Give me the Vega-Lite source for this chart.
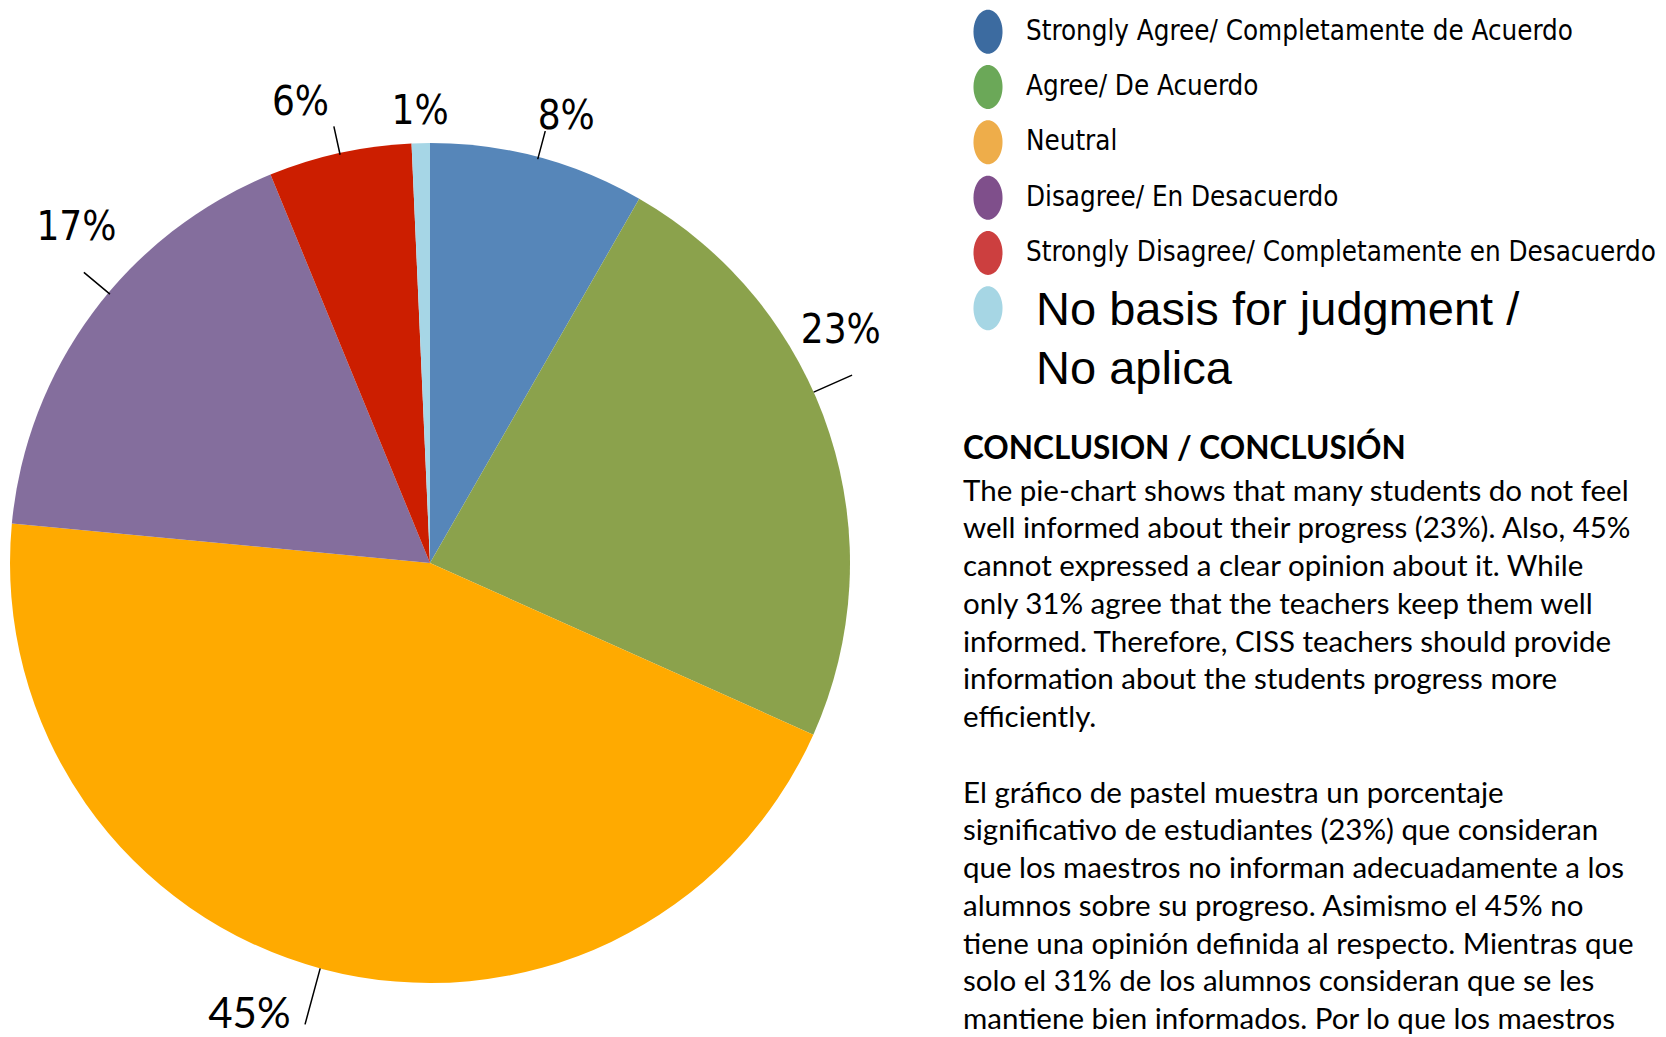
{
  "$schema": "https://vega.github.io/schema/vega-lite/v6.json",
  "padding": 0,
  "background": "white",
  "config": {"view": {"stroke": null}},
  "datasets": {
    "slices": [
      {"category": "Strongly Agree/ Completamente de Acuerdo", "pct": 8.3, "label": "8%", "order": 1},
      {"category": "Agree/ De Acuerdo", "pct": 23.4, "label": "23%", "order": 2},
      {"category": "Neutral", "pct": 44.8, "label": "45%", "order": 3},
      {"category": "Disagree/ En Desacuerdo", "pct": 17.3, "label": "17%", "order": 4},
      {"category": "Strongly Disagree/ Completamente en Desacuerdo", "pct": 5.5, "label": "6%", "order": 5},
      {"category": "No basis for judgment /\nNo aplica", "pct": 0.7, "label": "1%", "order": 6}
    ]
  },
  "bounds": "flush",
  "spacing": 103,
  "hconcat": [
    {
      "width": 860,
      "height": 1126,
      "data": {"name": "slices"},
      "resolve": {"scale": {"theta": "independent"}},
      "encoding": {
        "order": {"field": "order", "type": "quantitative"},
        "detail": {"field": "category"}
      },
      "layer": [
        {
          "mark": {"type": "arc", "outerRadius": 420},
          "encoding": {
            "theta": {"field": "pct", "type": "quantitative", "stack": true},
            "color": {
              "field": "category", "type": "nominal", "legend": null,
              "scale": {
                "domain": ["Strongly Agree/ Completamente de Acuerdo", "Agree/ De Acuerdo", "Neutral", "Disagree/ En Desacuerdo", "Strongly Disagree/ Completamente en Desacuerdo", "No basis for judgment /\nNo aplica"],
                "range": ["#5686B9", "#8BA24C", "#FFAA00", "#846E9D", "#CC1E00", "#A6D6E6"]
              }
            }
          }
        },
        {
          "mark": {"type": "arc", "innerRadius": 418, "outerRadius": 447, "padAngle": 3, "fill": "black", "fillOpacity": 0, "stroke": "black", "strokeWidth": 1.5},
          "encoding": {
            "theta": {"field": "pct", "type": "quantitative", "stack": true},
            "strokeOpacity": {"condition": {"test": "datum.label == '8%' || datum.label == '6%'", "value": 1}, "value": 0}
          }
        },
        {
          "mark": {"type": "arc", "innerRadius": 420, "outerRadius": 478, "padAngle": 3, "fill": "black", "fillOpacity": 0, "stroke": "black", "strokeWidth": 1.5},
          "encoding": {
            "theta": {"field": "pct", "type": "quantitative", "stack": true, "scale": {"range": [0.007, 6.290]}},
            "strokeOpacity": {"condition": {"test": "datum.label == '45%'", "value": 1}, "value": 0}
          }
        },
        {
          "mark": {"type": "arc", "innerRadius": 420, "outerRadius": 462, "padAngle": 3, "fill": "black", "fillOpacity": 0, "stroke": "black", "strokeWidth": 1.5},
          "encoding": {
            "theta": {"field": "pct", "type": "quantitative", "stack": true, "scale": {"range": [-0.1047, 6.1785]}},
            "strokeOpacity": {"condition": {"test": "datum.label == '23%'", "value": 1}, "value": 0}
          }
        },
        {
          "mark": {"type": "arc", "innerRadius": 418, "outerRadius": 452, "padAngle": 3, "fill": "black", "fillOpacity": 0, "stroke": "black", "strokeWidth": 1.5},
          "encoding": {
            "theta": {"field": "pct", "type": "quantitative", "stack": true, "scale": {"range": [0.061, 6.344]}},
            "strokeOpacity": {"condition": {"test": "datum.label == '17%'", "value": 1}, "value": 0}
          }
        },
        {
          "mark": {"type": "text", "radius": 466, "font": "DejaVu Sans Condensed", "fontSize": 40, "color": "black", "align": "center", "baseline": "middle"},
          "encoding": {
            "theta": {"field": "pct", "type": "quantitative", "stack": true, "scale": {"range": [0.036, 6.319]}},
            "text": {"condition": {"test": "datum.label == '8%'", "field": "label"}, "value": ""}
          }
        },
        {
          "mark": {"type": "text", "radius": 472, "font": "DejaVu Sans Condensed", "fontSize": 40, "color": "black", "align": "center", "baseline": "middle"},
          "encoding": {
            "theta": {"field": "pct", "type": "quantitative", "stack": true, "scale": {"range": [-0.2007, 6.0825]}},
            "text": {"condition": {"test": "datum.label == '23%'", "field": "label"}, "value": ""}
          }
        },
        {
          "mark": {"type": "text", "radius": 487, "font": "Lato", "fontSize": 42, "color": "black", "align": "center", "baseline": "middle"},
          "encoding": {
            "theta": {"field": "pct", "type": "quantitative", "stack": true, "scale": {"range": [0.1222, 6.4054]}},
            "text": {"condition": {"test": "datum.label == '45%'", "field": "label"}, "value": ""}
          }
        },
        {
          "mark": {"type": "text", "radius": 487, "font": "DejaVu Sans Condensed", "fontSize": 40, "color": "black", "align": "center", "baseline": "middle"},
          "encoding": {
            "theta": {"field": "pct", "type": "quantitative", "stack": true, "scale": {"range": [0.1204, 6.4036]}},
            "text": {"condition": {"test": "datum.label == '17%'", "field": "label"}, "value": ""}
          }
        },
        {
          "mark": {"type": "text", "radius": 478, "font": "DejaVu Sans Condensed", "fontSize": 40, "color": "black", "align": "center", "baseline": "middle"},
          "encoding": {
            "theta": {"field": "pct", "type": "quantitative", "stack": true, "scale": {"range": [-0.0576, 6.2256]}},
            "text": {"condition": {"test": "datum.label == '6%'", "field": "label"}, "value": ""}
          }
        },
        {
          "mark": {"type": "text", "radius": 451, "font": "DejaVu Sans Condensed", "fontSize": 40, "color": "black", "align": "center", "baseline": "middle"},
          "encoding": {
            "theta": {"field": "pct", "type": "quantitative", "stack": true},
            "text": {"condition": {"test": "datum.label == '1%'", "field": "label"}, "value": ""}
          }
        }
      ]
    },
    {
      "spacing": 40,
      "vconcat": [
        {
          "width": 703,
          "height": 340,
          "data": {"name": "slices"},
          "encoding": {
            "y": {
              "field": "category", "type": "nominal", "axis": null,
              "sort": ["Strongly Agree/ Completamente de Acuerdo", "Agree/ De Acuerdo", "Neutral", "Disagree/ En Desacuerdo", "Strongly Disagree/ Completamente en Desacuerdo", "No basis for judgment /\nNo aplica"],
              "scale": {"type": "point", "padding": 0.575}
            }
          },
          "layer": [
            {
              "mark": {"type": "point", "shape": "M-0.66,0A0.66,1,0,1,1,0.66,0A0.66,1,0,1,1,-0.66,0Z", "filled": true, "opacity": 1, "size": 1936, "x": 25},
              "encoding": {
                "fill": {
                  "field": "category", "type": "nominal", "legend": null,
                  "scale": {
                    "domain": ["Strongly Agree/ Completamente de Acuerdo", "Agree/ De Acuerdo", "Neutral", "Disagree/ En Desacuerdo", "Strongly Disagree/ Completamente en Desacuerdo", "No basis for judgment /\nNo aplica"],
                    "range": ["#3C6BA0", "#6BA858", "#EEAD4A", "#7F4F8B", "#CC3F3F", "#A6D6E4"]
                  }
                }
              }
            },
            {
              "mark": {"type": "text", "align": "left", "baseline": "middle", "font": "DejaVu Sans Condensed", "fontSize": 27.5, "color": "black", "x": 63},
              "encoding": {"text": {"condition": {"test": "datum.order == 6", "value": ""}, "field": "category"}}
            },
            {
              "mark": {"type": "text", "align": "left", "baseline": "top", "font": "Liberation Sans", "fontSize": 47, "lineHeight": 59, "lineBreak": "\n", "color": "black", "x": 73, "dy": -20},
              "encoding": {"text": {"condition": {"test": "datum.order == 6", "field": "category"}, "value": ""}}
            }
          ]
        },
        {
          "spacing": 34,
          "vconcat": [
            {
              "width": 703,
              "height": 1,
              "title": {
                "text": "CONCLUSION / CONCLUSIÓN",
                "subtitle": [
                  "The pie-chart shows that many students do not feel",
                  "well informed about their progress (23%). Also, 45%",
                  "cannot expressed a clear opinion about it. While",
                  "only 31% agree that the teachers keep them well",
                  "informed.  Therefore, CISS teachers  should provide",
                  "information about the students progress more",
                  "efficiently."
                ],
                "anchor": "start",
                "frame": "group",
                "font": "Lato",
                "fontSize": 31.5,
                "fontWeight": "bold",
                "color": "black",
                "subtitleFont": "Lato",
                "subtitleFontSize": 29.5,
                "subtitleColor": "black",
                "subtitleLineHeight": 37.7,
                "subtitlePadding": 12,
                "offset": 0
              },
              "data": {"values": [{"t": ""}]},
              "mark": {"type": "text"},
              "encoding": {"text": {"field": "t"}}
            },
            {
              "width": 703,
              "height": 1,
              "title": {
                "text": [
                  "El gráfico de pastel muestra un porcentaje",
                  "significativo de estudiantes (23%) que consideran",
                  "que los maestros no informan adecuadamente a los",
                  "alumnos sobre su progreso.  Asimismo el 45% no",
                  "tiene una opinión definida al respecto. Mientras que",
                  "solo el 31% de los alumnos consideran que se les",
                  "mantiene bien informados. Por lo que los maestros"
                ],
                "anchor": "start",
                "frame": "group",
                "font": "Lato",
                "fontSize": 29.5,
                "fontWeight": "normal",
                "color": "black",
                "lineHeight": 37.7,
                "offset": 0
              },
              "data": {"values": [{"t": ""}]},
              "mark": {"type": "text"},
              "encoding": {"text": {"field": "t"}}
            }
          ]
        }
      ]
    }
  ]
}
